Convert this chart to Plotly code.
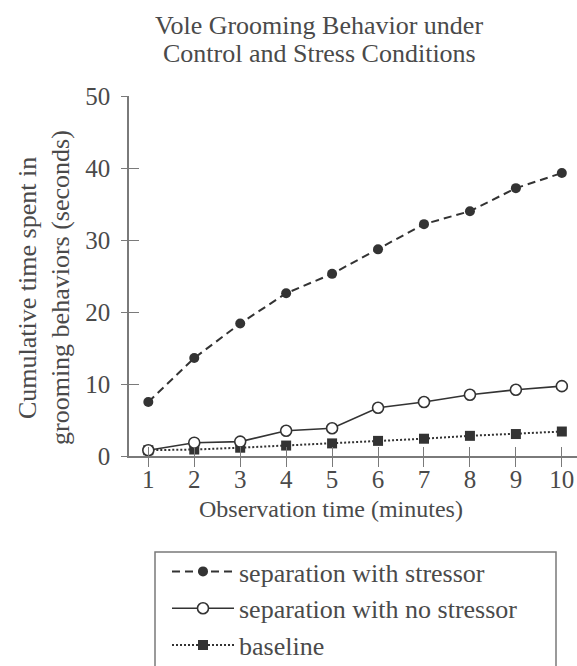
import plotly.graph_objects as go

minutes = [1, 2, 3, 4, 5, 6, 7, 8, 9, 10]
stressor = [7.5, 13.6, 18.4, 22.6, 25.3, 28.7, 32.2, 34.0, 37.2, 39.3]
no_stressor = [0.8, 1.85, 2.0, 3.5, 3.85, 6.7, 7.5, 8.5, 9.2, 9.7]
baseline = [0.8, 0.9, 1.15, 1.45, 1.75, 2.1, 2.4, 2.8, 3.05, 3.4]
y_ticks = [0, 10, 20, 30, 40, 50]
title_lines = ["Vole Grooming Behavior under", "Control and Stress Conditions"]
ytitle_lines = ["Cumulative time spent in", "grooming behaviors (seconds)"]
xtitle = "Observation time (minutes)"

OFF = 0  # body margin removed below
W, H = 577, 666
# plot area in page pixels
PL, PR, PT, PB = 129, 577, 96, 456
L = PL - OFF
R = W - (PR - OFF)
T = PT - OFF
B = H - (PB - OFF)
PW, PH = W - L - R, H - T - B

def px(x):
    return (x - OFF - L) / PW

def py(y):
    return (H - B - (y - OFF)) / PH

FONT = "Liberation Serif"
TXT = "#4a4a4a"
INK = "#333333"
AX = "#7a7a7a"
XR = [0.58, 10.33]
YR = [0, 50]

fig = go.Figure()
fig.add_trace(go.Scatter(
    x=minutes, y=baseline, name="baseline", mode="lines+markers",
    line=dict(color=INK, width=2, dash="2px,2px"),
    marker=dict(symbol="square", size=10, color=INK),
    cliponaxis=False, legendrank=3))
fig.add_trace(go.Scatter(
    x=minutes, y=no_stressor, name="separation with no stressor", mode="lines+markers",
    line=dict(color=INK, width=1.6),
    marker=dict(symbol="circle", size=11, color="white", line=dict(color=INK, width=1.6)),
    cliponaxis=False, legendrank=2))
fig.add_trace(go.Scatter(
    x=minutes, y=stressor, name="separation with stressor", mode="lines+markers",
    line=dict(color=INK, width=2, dash="8px,5px"),
    marker=dict(symbol="circle", size=10, color=INK),
    cliponaxis=False, legendrank=1))
fig.add_trace(go.Scatter(x=[], y=[], xaxis="x2", yaxis="y2", showlegend=False, hoverinfo="skip"))

fig.update_layout(
    width=W, height=H,
    margin=dict(l=L, r=R, t=T, b=B, pad=0, autoexpand=False),
    paper_bgcolor="white", plot_bgcolor="white",
    font=dict(family=FONT, color=TXT, size=24),
    showlegend=True,
    legend=dict(x=px(167), y=py(548), xanchor="left", yanchor="top",
                bgcolor="rgba(0,0,0,0)", borderwidth=0,
                font=dict(family=FONT, size=26, color=TXT),
                traceorder="normal", itemwidth=62),
    xaxis=dict(range=XR, tickvals=minutes, ticks="inside", ticklen=9, tickwidth=1.3,
               tickcolor=AX, showline=True, linecolor=AX, linewidth=1.5,
               showgrid=False, zeroline=False, ticklabelstandoff=0,
               ticklabeloverflow="allow",
               tickfont=dict(family=FONT, size=25, color=TXT)),
    yaxis=dict(range=YR, tickvals=y_ticks, ticks="inside", ticklen=10, tickwidth=1.3,
               tickcolor=AX, showline=True, linecolor=AX, linewidth=1.5,
               showgrid=False, zeroline=False, ticklabelstandoff=12,
               tickfont=dict(family=FONT, size=25, color=TXT)),
    xaxis2=dict(range=XR, overlaying="x", anchor="y2", tickvals=minutes, ticks="outside",
                ticklen=10, tickwidth=1.3, tickcolor=AX, showticklabels=False,
                showline=False, showgrid=False, zeroline=False),
    yaxis2=dict(range=YR, overlaying="y", anchor="x2", tickvals=y_ticks, ticks="outside",
                ticklen=7, tickwidth=1.3, tickcolor=AX, showticklabels=False,
                showline=False, showgrid=False, zeroline=False),
)

for txt, yc in zip(title_lines, [25, 54]):
    fig.add_annotation(text=txt, xref="paper", yref="paper", x=px(319), y=py(yc),
                       xanchor="center", yanchor="middle", showarrow=False,
                       font=dict(family=FONT, size=26, color=TXT))
for txt, xc in zip(ytitle_lines, [27, 60]):
    fig.add_annotation(text=txt, xref="paper", yref="paper", x=px(xc), y=py(288),
                       textangle=-90, xanchor="center", yanchor="middle", showarrow=False,
                       font=dict(family=FONT, size=26, color=TXT))
fig.add_annotation(text=xtitle, xref="paper", yref="paper", x=px(331), y=py(509),
                   xanchor="center", yanchor="middle", showarrow=False,
                   font=dict(family=FONT, size=24, color=TXT))

fig.add_shape(type="rect", xref="paper", yref="paper",
              x0=px(155), x1=px(556), y0=py(552), y1=py(690),
              line=dict(color=AX, width=1.5), fillcolor="rgba(0,0,0,0)")

fig.write_html("out.html",
               config={"displayModeBar": False},
               post_script="document.body.style.margin='0';document.body.style.overflow='hidden';")
